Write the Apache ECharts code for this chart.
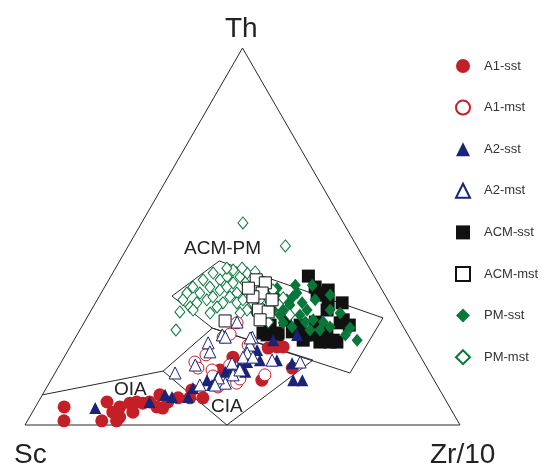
<!DOCTYPE html>
<html><head><meta charset="utf-8">
<script src="https://cdn.jsdelivr.net/npm/echarts@6/dist/echarts.min.js"></script>
<style>html,body{margin:0;padding:0;background:#fff}#c{width:547px;height:468px}</style>
</head><body><div id="c"></div>
<script>
// Ternary data as [Th, Zr/10] in percent (Sc = 100 - Th - Zr/10)
const seriesNames = ['A1-sst','A1-mst','A2-sst','A2-mst','ACM-sst','ACM-mst','PM-sst','PM-mst'];
const apexLabels = ['Th','Sc','Zr/10'];
const fieldLabels = ['ACM-PM','OIA','CIA'];

const a1sst = [[4.8,6.6],[1.1,8.4],[1.1,17.1],[1.1,20.5],[6.1,15.8],[3.4,18.5],[4.8,19.4],[5.8,21.2],[6.1,22.6],[5.8,24.2],[3.4,23.1],[2.1,20.7],[8.0,27.0],[4.8,27.9],[4.5,29.4],[6.1,29.8],[7.2,31.6],[7.2,34.3],[7.2,37.3],[9.3,33.7],[14.6,37.5],[18.0,38.8],[11.9,48.5],[20.4,45.7],[20.7,47.6],[20.7,49.0],[15.1,53.9],[6.1,25.6]];
const a1mst = [[23.3,33.9],[24.1,35.1],[27.1,35.2],[16.7,30.7],[15.1,32.2],[14.6,35.7],[13.0,36.7],[15.9,39.1],[11.1,43.1],[10.1,39.3],[12.2,43.3],[21.2,40.7],[18.6,32.3],[13.3,48.5]];
const a2sst = [[4.5,13.9],[6.1,25.6],[8.0,28.2],[7.4,30.1],[7.4,33.8],[9.8,33.7],[11.9,35.9],[12.5,37.9],[14.1,39.0],[15.1,39.6],[15.9,41.5],[16.7,42.7],[18.0,43.4],[19.9,43.4],[17.2,45.4],[22.5,45.8],[17.2,49.3],[16.4,53.2],[11.9,55.7],[11.9,57.8],[23.9,50.6],[14.1,43.6],[10.6,37.7]];
const a2mst = [[13.8,27.6],[21.8,31.2],[19.4,32.8],[15.9,31.2],[23.9,33.4],[23.3,40.6],[21.2,41.1],[19.1,41.5],[18.0,41.1],[16.4,39.4],[11.1,40.5],[12.5,38.2],[10.6,38.4],[13.3,41.2],[14.6,42.1],[17.2,48.2],[16.7,54.9],[10.6,34.9],[27.3,35.1],[23.3,34.4],[23.1,40.2],[18.0,43.4]];
const acmsst = [[39.5,45.4],[36.6,48.4],[34.5,49.9],[34.5,52.0],[32.4,53.5],[32.4,56.7],[27.9,59.2],[22.0,60.7],[22.0,56.8],[23.9,54.3],[23.9,52.5],[23.9,43.7],[24.4,42.5],[24.4,46.0],[24.7,49.1],[25.2,56.8],[27.1,58.9],[26.5,61.3],[22.0,59.1],[30.5,54.2],[22.5,59.6],[23.3,46.3],[25.2,49.0],[22.5,52.7],[35.8,51.8],[35.0,50.3],[27.9,45.9],[26.5,43.1],[26.5,50.0],[27.3,53.1]];
const acmmst = [[27.6,32.2],[38.5,33.9],[37.7,36.4],[35.0,37.0],[34.0,35.4],[30.5,38.4],[30.0,40.9],[27.9,40.1],[33.2,40.2],[36.3,33.2]];
const pmsst = [[37.1,47.5],[35.0,45.0],[33.2,43.6],[32.4,47.5],[30.5,54.9],[25.7,61.9],[22.5,65.1],[26.0,57.1],[25.2,55.2],[26.0,48.4],[34.0,44.6],[34.0,40.9],[32.6,40.0],[30.5,41.8],[30.5,44.1],[30.5,49.6],[27.9,52.3],[27.3,54.9],[27.1,45.8],[36.3,39.8],[31.3,40.7],[30.5,37.2],[29.2,48.6],[33.2,50.1],[29.7,57.6],[28.4,40.3],[31.8,45.0],[27.3,50.8],[29.2,44.0],[37.1,43.6],[33.2,37.0],[34.5,52.9],[23.9,61.7],[25.2,52.9],[35.3,37.6]];
const pmmst = [[35.0,19.7],[36.6,20.3],[33.2,19.7],[31.3,22.3],[38.5,21.7],[40.3,23.1],[38.5,25.6],[39.3,26.8],[36.6,24.2],[35.0,22.7],[33.2,25.2],[32.4,23.3],[34.0,26.2],[35.8,26.9],[36.6,28.1],[37.7,29.0],[39.3,29.8],[40.3,30.9],[37.7,31.8],[35.0,31.2],[34.0,30.1],[32.4,29.3],[31.3,28.5],[29.7,27.7],[32.4,32.5],[33.2,33.5],[35.0,34.2],[32.4,36.2],[33.2,37.4],[34.0,38.6],[35.8,39.1],[30.5,35.8],[29.7,34.6],[30.5,39.5],[41.1,27.3],[41.6,29.1],[41.6,25.6],[53.6,23.3],[47.5,36.1],[25.2,22.1],[36.3,34.8],[33.7,42.5],[29.2,46.3],[27.3,42.3],[30.0,20.6],[30.5,23.4],[40.6,32.6]];

// Field boundaries (ternary [Th, Zr/10])
const triangleOutline = [[0,0],[0,100],[100,0],[0,0]];
const oiaLine = [[8.0,0],[14.3,24.6]];
const ciaField = [[14.3,24.6],[25.7,30.2],[17.2,57.6],[0,46.4],[14.3,24.6]];
const acmpmField = [[34.2,16.7],[43.5,22.9],[28.4,68.1],[13.8,67.8],[25.7,30.2],[34.2,16.7]];

const SQ = Math.sqrt(3) / 2;
function toXY(p) { const th = p[0], zr = p[1]; return [(zr + th / 2) / 100, th / 100 * SQ]; }
const conv = arr => arr.map(toXY);

const RED = '#c41f27', NAVY = '#1a2378', GREEN = '#08773a', BLACK = '#111111';

function lineS(pts) {
  return { type: 'line', data: conv(pts), symbol: 'none', silent: true, clip: false,
    lineStyle: { color: '#2a2a2a', width: 1 }, z: 1, animation: false };
}
function sc(name, data, symbol, size, color, open, z) {
  return { name, type: 'scatter', data: conv(data), symbol, symbolSize: size, clip: false, z: z,
    itemStyle: open ? { color: '#ffffff', borderColor: color, borderWidth: 1, opacity: 1 } : { color: color, borderWidth: 0, opacity: 1 },
    emphasis: { disabled: true },
    animation: false };
}

const chart = echarts.init(document.getElementById('c'));
const font = "'Liberation Sans', Arial, Helvetica, sans-serif";
chart.setOption({
  backgroundColor: '#fff',
  grid: { left: 25, top: 48, width: 435, height: 377 },
  xAxis: { type: 'value', min: 0, max: 1, show: false },
  yAxis: { type: 'value', min: 0, max: SQ, show: false },
  legend: {
    data: seriesNames, orient: 'vertical', left: 450, top: 54, itemGap: 26.6,
    itemWidth: 14, itemHeight: 14,
    textStyle: { fontFamily: font, fontSize: 13, color: '#333', padding: [0, 0, 0, 9] },
    selectedMode: false
  },
  graphic: [
    { type: 'text', left: 242 - 17, top: 15, style: { text: apexLabels[0], font: '28px ' + font, fill: '#222' } },
    { type: 'text', left: 14, top: 441, style: { text: apexLabels[1], font: '28px ' + font, fill: '#222' } },
    { type: 'text', left: 430, top: 441, style: { text: apexLabels[2], font: '28px ' + font, fill: '#222' } },
    { type: 'text', left: 184, top: 239, style: { text: fieldLabels[0], font: '19px ' + font, fill: '#222' } },
    { type: 'text', left: 114, top: 380, style: { text: fieldLabels[1], font: '19px ' + font, fill: '#222' } },
    { type: 'text', left: 211, top: 397, style: { text: fieldLabels[2], font: '19px ' + font, fill: '#222' } }
  ],
  series: [
    lineS(triangleOutline), lineS(oiaLine), lineS(ciaField), lineS(acmpmField),
    sc('ACM-sst', acmsst, 'rect', 13, BLACK, false, 2),
    sc('PM-sst', pmsst, 'diamond', [11, 13], GREEN, false, 3),
    sc('PM-mst', pmmst, 'diamond', [10, 12], GREEN, true, 4),
    sc('ACM-mst', acmmst, 'rect', 12, BLACK, true, 5),
    sc('A1-sst', a1sst, 'circle', 13, RED, false, 6),
    sc('A1-mst', a1mst, 'circle', 12, RED, true, 7),
    sc('A2-sst', a2sst, 'triangle', 12, NAVY, false, 8),
    sc('A2-mst', a2mst, 'triangle', 12, NAVY, true, 9)
  ]
});
</script></body></html>
